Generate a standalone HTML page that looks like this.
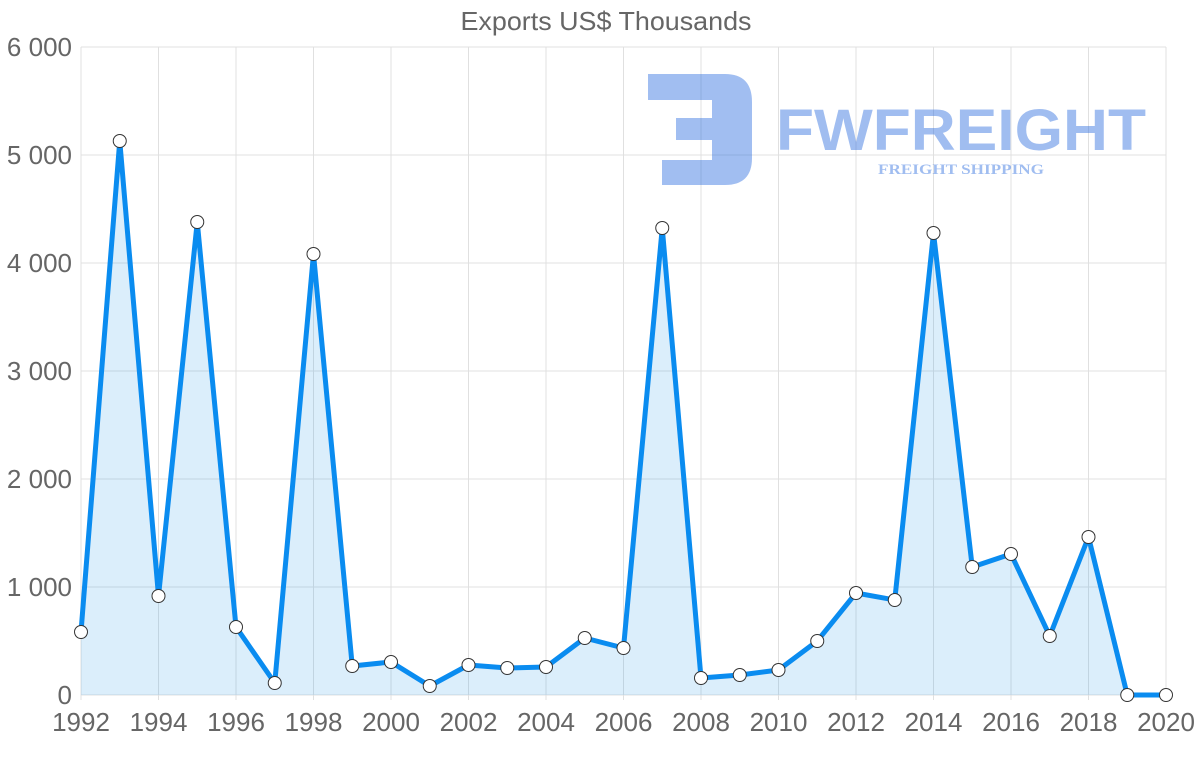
<!DOCTYPE html>
<html><head><meta charset="utf-8"><style>
html,body{margin:0;padding:0;background:#fff;}
svg{display:block;font-family:"Liberation Sans",sans-serif;}
</style></head><body>
<svg width="1200" height="763" viewBox="0 0 1200 763" xmlns="http://www.w3.org/2000/svg">
<text x="606" y="30" text-anchor="middle" font-size="26" fill="#666" textLength="291" lengthAdjust="spacingAndGlyphs">Exports US$ Thousands</text>
<g stroke="#e0e0e0" stroke-width="1">
<line x1="81" y1="47" x2="1166" y2="47"/><line x1="81" y1="155" x2="1166" y2="155"/>
<line x1="81" y1="263" x2="1166" y2="263"/><line x1="81" y1="371" x2="1166" y2="371"/>
<line x1="81" y1="479" x2="1166" y2="479"/><line x1="81" y1="587" x2="1166" y2="587"/>
<line x1="81" y1="695" x2="1166" y2="695"/>
<line x1="81" y1="47" x2="81" y2="700"/><line x1="158.5" y1="47" x2="158.5" y2="700"/>
<line x1="236" y1="47" x2="236" y2="700"/><line x1="313.5" y1="47" x2="313.5" y2="700"/>
<line x1="391" y1="47" x2="391" y2="700"/><line x1="468.5" y1="47" x2="468.5" y2="700"/>
<line x1="546" y1="47" x2="546" y2="700"/><line x1="623.5" y1="47" x2="623.5" y2="700"/>
<line x1="701" y1="47" x2="701" y2="700"/><line x1="778.5" y1="47" x2="778.5" y2="700"/>
<line x1="856" y1="47" x2="856" y2="700"/><line x1="933.5" y1="47" x2="933.5" y2="700"/>
<line x1="1011" y1="47" x2="1011" y2="700"/><line x1="1088.5" y1="47" x2="1088.5" y2="700"/>
<line x1="1166" y1="47" x2="1166" y2="700"/>
</g>
<g font-size="26" fill="#666" text-anchor="end">
<text x="72" y="56">6 000</text><text x="72" y="164">5 000</text><text x="72" y="272">4 000</text>
<text x="72" y="380">3 000</text><text x="72" y="488">2 000</text><text x="72" y="596">1 000</text>
<text x="72" y="704">0</text>
</g>
<g font-size="26" fill="#666" text-anchor="middle">
<text x="81" y="731">1992</text><text x="158.5" y="731">1994</text><text x="236" y="731">1996</text>
<text x="313.5" y="731">1998</text><text x="391" y="731">2000</text><text x="468.5" y="731">2002</text>
<text x="546" y="731">2004</text><text x="623.5" y="731">2006</text><text x="701" y="731">2008</text>
<text x="778.5" y="731">2010</text><text x="856" y="731">2012</text><text x="933.5" y="731">2014</text>
<text x="1011" y="731">2016</text><text x="1088.5" y="731">2018</text><text x="1166" y="731">2020</text>
</g>
<g opacity="0.45" fill="#2f6fe0">
<path d="M648 74 H725 Q752 74 752 102 V158 Q752 185 725 185 H662 V160 H712 V140 H676 V118 H712 V100 H648 Z"/>
<text x="776" y="150" font-size="58" font-weight="bold" textLength="370" lengthAdjust="spacingAndGlyphs">FWFREIGHT</text>
<text x="961" y="174" font-size="15" font-weight="bold" font-family="Liberation Serif,serif" text-anchor="middle" textLength="166" lengthAdjust="spacingAndGlyphs">FREIGHT SHIPPING</text>
</g>
<path d="M81,632 L119.75,141 L158.5,596 L197.25,222 L236,627 L274.75,683 L313.5,254 L352.25,666 L391,662 L429.75,686 L468.5,665 L507.25,668 L546,667 L584.75,638 L623.5,648 L662.25,228 L701,678 L739.75,675 L778.5,670 L817.25,641 L856,593 L894.75,600 L933.5,233 L972.25,567 L1011,554 L1049.75,636 L1088.5,537 L1127.25,695 L1166,695 L1166,695 L81,695 Z" fill="rgba(54,162,235,0.18)"/>
<polyline points="81,632 119.75,141 158.5,596 197.25,222 236,627 274.75,683 313.5,254 352.25,666 391,662 429.75,686 468.5,665 507.25,668 546,667 584.75,638 623.5,648 662.25,228 701,678 739.75,675 778.5,670 817.25,641 856,593 894.75,600 933.5,233 972.25,567 1011,554 1049.75,636 1088.5,537 1127.25,695 1166,695" fill="none" stroke="#0a8cf0" stroke-width="5" stroke-linejoin="round"/>
<g fill="#fff" stroke="#333" stroke-width="1">
<circle cx="81" cy="632" r="6.5"/><circle cx="119.75" cy="141" r="6.5"/><circle cx="158.5" cy="596" r="6.5"/>
<circle cx="197.25" cy="222" r="6.5"/><circle cx="236" cy="627" r="6.5"/><circle cx="274.75" cy="683" r="6.5"/>
<circle cx="313.5" cy="254" r="6.5"/><circle cx="352.25" cy="666" r="6.5"/><circle cx="391" cy="662" r="6.5"/>
<circle cx="429.75" cy="686" r="6.5"/><circle cx="468.5" cy="665" r="6.5"/><circle cx="507.25" cy="668" r="6.5"/>
<circle cx="546" cy="667" r="6.5"/><circle cx="584.75" cy="638" r="6.5"/><circle cx="623.5" cy="648" r="6.5"/>
<circle cx="662.25" cy="228" r="6.5"/><circle cx="701" cy="678" r="6.5"/><circle cx="739.75" cy="675" r="6.5"/>
<circle cx="778.5" cy="670" r="6.5"/><circle cx="817.25" cy="641" r="6.5"/><circle cx="856" cy="593" r="6.5"/>
<circle cx="894.75" cy="600" r="6.5"/><circle cx="933.5" cy="233" r="6.5"/><circle cx="972.25" cy="567" r="6.5"/>
<circle cx="1011" cy="554" r="6.5"/><circle cx="1049.75" cy="636" r="6.5"/><circle cx="1088.5" cy="537" r="6.5"/>
<circle cx="1127.25" cy="695" r="6.5"/><circle cx="1166" cy="695" r="6.5"/>
</g>
</svg>
</body></html>
